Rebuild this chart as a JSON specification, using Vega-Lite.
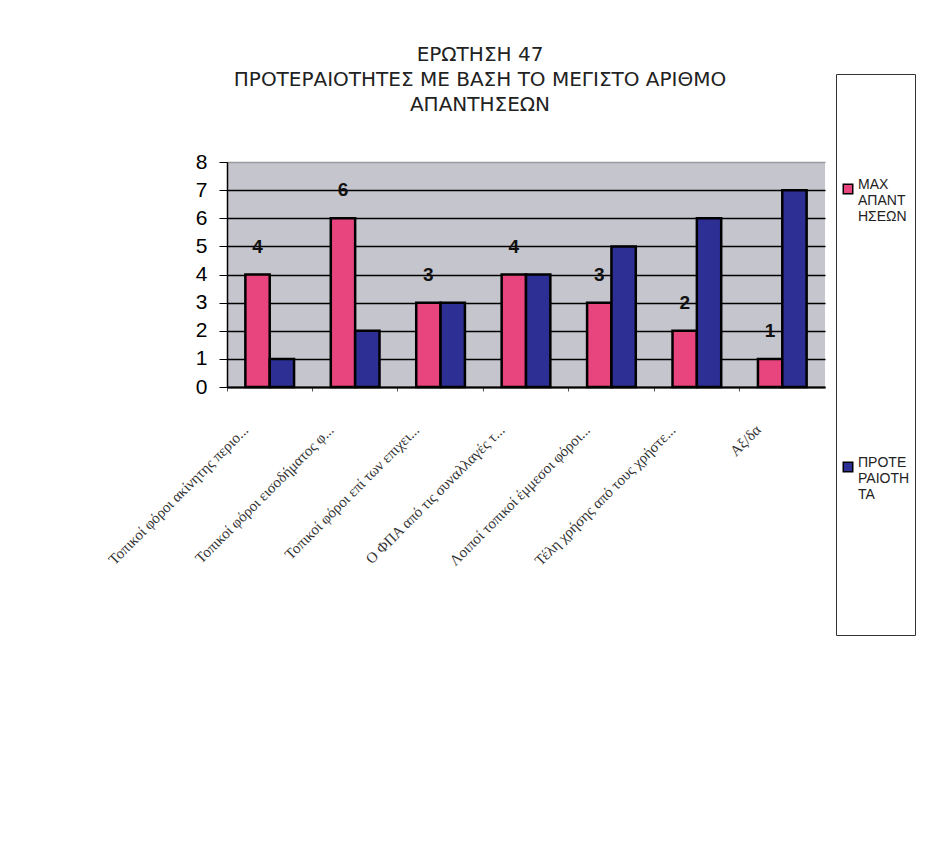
{
  "$schema": "https://vega.github.io/schema/vega-lite/v6.json",
  "autosize": "none",
  "width": 598,
  "height": 225,
  "padding": {"left": 227, "top": 162, "right": 123, "bottom": 461},
  "background": "white",
  "title": {
    "text": ["ΕΡΩΤΗΣΗ 47", "ΠΡΟΤΕΡΑΙΟΤΗΤΕΣ ΜΕ ΒΑΣΗ ΤΟ ΜΕΓΙΣΤΟ ΑΡΙΘΜΟ", "ΑΠΑΝΤΗΣΕΩΝ"],
    "anchor": "middle",
    "dx": -46,
    "offset": -41,
    "font": "DejaVu Sans",
    "fontSize": 20,
    "fontWeight": "normal",
    "color": "#222222",
    "lineHeight": 25
  },
  "data": {
    "values": [
      {"cat": "Τοπικοί φόροι ακίνητης περιο...", "series": "MAX ΑΠΑΝΤΗΣΕΩΝ", "value": 4},
      {"cat": "Τοπικοί φόροι ακίνητης περιο...", "series": "ΠΡΟΤΕΡΑΙΟΤΗΤΑ", "value": 1},
      {"cat": "Τοπικοί φόροι εισοδήματος φ...", "series": "MAX ΑΠΑΝΤΗΣΕΩΝ", "value": 6},
      {"cat": "Τοπικοί φόροι εισοδήματος φ...", "series": "ΠΡΟΤΕΡΑΙΟΤΗΤΑ", "value": 2},
      {"cat": "Τοπικοί φόροι επί των επιχει...", "series": "MAX ΑΠΑΝΤΗΣΕΩΝ", "value": 3},
      {"cat": "Τοπικοί φόροι επί των επιχει...", "series": "ΠΡΟΤΕΡΑΙΟΤΗΤΑ", "value": 3},
      {"cat": "Ο ΦΠΑ από τις συναλλαγές τ...", "series": "MAX ΑΠΑΝΤΗΣΕΩΝ", "value": 4},
      {"cat": "Ο ΦΠΑ από τις συναλλαγές τ...", "series": "ΠΡΟΤΕΡΑΙΟΤΗΤΑ", "value": 4},
      {"cat": "Λοιποί τοπικοί έμμεσοι φόροι...", "series": "MAX ΑΠΑΝΤΗΣΕΩΝ", "value": 3},
      {"cat": "Λοιποί τοπικοί έμμεσοι φόροι...", "series": "ΠΡΟΤΕΡΑΙΟΤΗΤΑ", "value": 5},
      {"cat": "Τέλη χρήσης από τους χρήστε...", "series": "MAX ΑΠΑΝΤΗΣΕΩΝ", "value": 2},
      {"cat": "Τέλη χρήσης από τους χρήστε...", "series": "ΠΡΟΤΕΡΑΙΟΤΗΤΑ", "value": 6},
      {"cat": "Αξ/δα", "series": "MAX ΑΠΑΝΤΗΣΕΩΝ", "value": 1},
      {"cat": "Αξ/δα", "series": "ΠΡΟΤΕΡΑΙΟΤΗΤΑ", "value": 7}
    ]
  },
  "encoding": {
    "x": {
      "field": "cat",
      "type": "nominal",
      "sort": null,
      "scale": {"paddingInner": 0.43, "paddingOuter": 0.215},
      "axis": {
        "title": null,
        "bandPosition": -0.377,
        "labelAngle": -45,
        "labelAlign": "right",
        "labelBaseline": "middle",
        "labelOffset": -24,
        "labelPadding": 36,
        "labelFont": "Liberation Serif",
        "labelFontSize": 15,
        "labelColor": "#333333",
        "labelLimit": 300,
        "domainColor": "black",
        "domainWidth": 2,
        "tickColor": "#555555",
        "tickSize": 4,
        "grid": false
      }
    },
    "xOffset": {
      "field": "series",
      "type": "nominal",
      "scale": {"domain": ["MAX ΑΠΑΝΤΗΣΕΩΝ", "ΠΡΟΤΕΡΑΙΟΤΗΤΑ"], "paddingInner": 0, "paddingOuter": 0}
    },
    "y": {
      "field": "value",
      "type": "quantitative",
      "scale": {"domain": [0, 8], "nice": false},
      "axis": {
        "title": null,
        "values": [0, 1, 2, 3, 4, 5, 6, 7, 8],
        "labelFont": "Liberation Sans",
        "labelFontSize": 21,
        "labelColor": "black",
        "labelPadding": 12,
        "domainColor": "black",
        "domainWidth": 1.5,
        "tickColor": "black",
        "tickSize": 8,
        "grid": true,
        "gridColor": {"condition": {"test": "datum.value == 8", "value": "#9a9aa0"}, "value": "black"},
        "gridWidth": 1.5
      }
    }
  },
  "layer": [
    {
      "mark": {"type": "bar", "stroke": "black", "strokeWidth": 2.5},
      "encoding": {
        "color": {
          "field": "series",
          "type": "nominal",
          "scale": {"domain": ["MAX ΑΠΑΝΤΗΣΕΩΝ", "ΠΡΟΤΕΡΑΙΟΤΗΤΑ"], "range": ["#e8457f", "#2d2f94"]},
          "legend": {
            "orient": "none",
            "legendX": 609,
            "legendY": -88,
            "title": " ",
            "titleFont": "Liberation Sans",
            "titleFontSize": 20,
            "titlePadding": 83,
            "padding": 5,
            "strokeColor": "#333333",
            "fillColor": "white",
            "symbolType": "square",
            "symbolSize": 90,
            "symbolStrokeColor": "black",
            "symbolStrokeWidth": 1.5,
            "symbolOpacity": 1,
            "labelFont": "Liberation Sans",
            "labelFontSize": 14,
            "labelColor": "#222222",
            "labelBaseline": "alphabetic",
            "labelOffset": 3,
            "labelLimit": 200,
            "rowPadding": 232,
            "labelExpr": "datum.label == 'MAX ΑΠΑΝΤΗΣΕΩΝ' ? ['MAX', 'ΑΠΑΝΤ', 'ΗΣΕΩΝ'] : ['ΠΡΟΤΕ', 'ΡΑΙΟΤΗ', 'ΤΑ', ' ', ' ', ' ', ' ', ' ', ' ', ' ', '\u00a0\u00a0\u00a0\u00a0\u00a0\u00a0\u00a0\u00a0\u00a0\u00a0\u00a0\u00a0\u00a0\u00a0\u00a0\u00a0\u00a0\u00a0\u00a0']"
          }
        }
      }
    },
    {
      "transform": [{"filter": "datum.series == 'MAX ΑΠΑΝΤΗΣΕΩΝ'"}],
      "mark": {"type": "text", "dy": -28, "baseline": "middle", "font": "Liberation Sans", "fontSize": 19, "fontWeight": "bold", "color": "#111111"},
      "encoding": {
        "text": {"field": "value", "type": "quantitative"}
      }
    }
  ],
  "config": {
    "view": {"fill": "#c5c5cd", "stroke": null},
    "legend": {"labelLineHeight": 19}
  }
}
